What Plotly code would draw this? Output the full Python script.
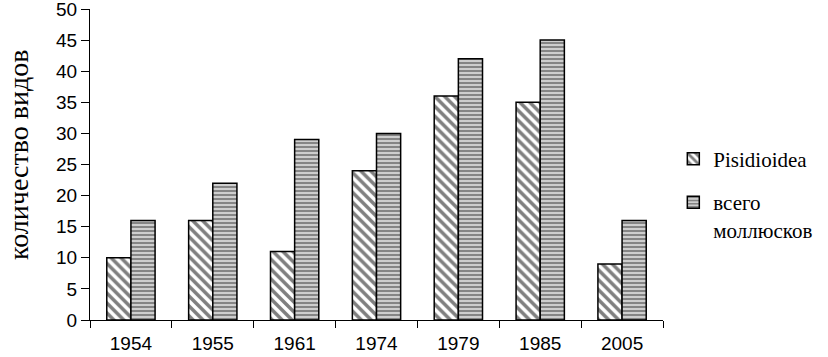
import plotly.graph_objects as go

years = ["1954", "1955", "1961", "1974", "1979", "1985", "2005"]
pisidioidea = [10, 16, 11, 24, 36, 35, 9]
total_molluscs = [16, 22, 29, 30, 42, 45, 16]
y_ticks = [0, 5, 10, 15, 20, 25, 30, 35, 40, 45, 50]

fig = go.Figure()
fig.add_trace(go.Bar(
    x=years, y=pisidioidea, name="Pisidioidea", legendgroup="a",
    marker=dict(color="white", line=dict(color="black", width=1.5),
                pattern=dict(shape="\\", fgcolor="black", bgcolor="white", size=7, solidity=0.5)),
))
fig.add_trace(go.Bar(
    x=years, y=total_molluscs, name="всего<br>моллюсков", legendgroup="b",
    marker=dict(color="white", line=dict(color="black", width=1.5),
                pattern=dict(shape="-", fgcolor="#2a2a2a", bgcolor="#e0e0e0", size=4, solidity=0.6)),
))

fig.update_layout(
    width=828, height=357,
    margin=dict(l=90, r=165, t=9, b=37, autoexpand=False),
    paper_bgcolor="white", plot_bgcolor="white",
    barmode="group", bargap=0.41, bargroupgap=0,
    font=dict(family="Liberation Sans", size=19, color="black"),
    showlegend=True,
    legend=dict(x=1.018, y=0.583, xanchor="left", yanchor="top", valign="top",
                font=dict(family="Liberation Serif", size=21, color="black"),
                tracegroupgap=13, itemwidth=30, bgcolor="rgba(0,0,0,0)"),
    xaxis=dict(type="category", showline=True, linecolor="black", linewidth=1,
               ticks="outside", tickson="boundaries", ticklen=7, tickcolor="black",
               tickfont=dict(size=19), ticklabelstandoff=6, showgrid=False, automargin=False),
    yaxis=dict(range=[0, 50.001], tickvals=y_ticks, showline=True, linecolor="black", linewidth=1,
               ticks="outside", ticklen=8, tickcolor="black", showgrid=False, zeroline=False,
               tickfont=dict(size=19), automargin=False, ticklabeloverflow="allow"),
    annotations=[dict(text="количество видов", xref="paper", yref="paper",
                      x=-0.126, y=0.53, xanchor="center", yanchor="middle",
                      textangle=-90, showarrow=False,
                      font=dict(family="Liberation Serif", size=28, color="black"))],
)

fig.write_html("out.html", config={"displayModeBar": False},
               post_script="document.body.style.margin='0';")
